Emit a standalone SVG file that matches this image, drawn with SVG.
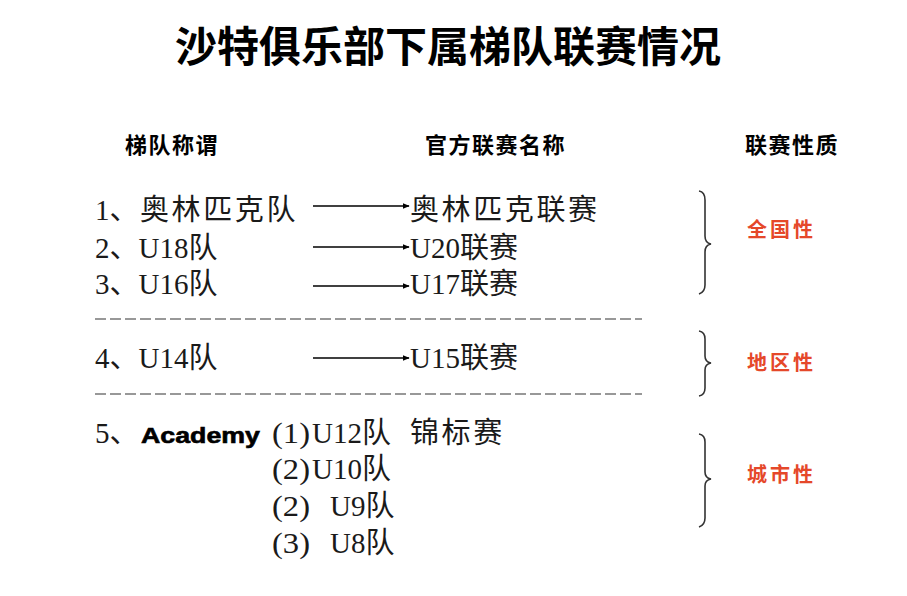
<svg xmlns="http://www.w3.org/2000/svg" width="907" height="596" viewBox="0 0 907 596">
<defs>
<style>
.title{font-family:"Noto Sans CJK SC","Liberation Sans",sans-serif;font-weight:700;font-size:42px;fill:#000}
.hdr{font-family:"Noto Sans CJK SC","Liberation Sans",sans-serif;font-weight:700;font-size:22px;fill:#000;letter-spacing:1.5px}
.item{font-family:"Liberation Serif","Noto Sans CJK SC",serif;font-size:29px;fill:#1a1a1a}
.wide{letter-spacing:2.6px}
.acad{font-family:"Liberation Sans",sans-serif;font-weight:900;font-size:22px;fill:#000;stroke:#000;stroke-width:0.6}
.kind{font-family:"Noto Sans CJK SC","Liberation Sans",sans-serif;font-weight:700;font-size:20px;fill:#e5482a;letter-spacing:3px}
.arrow{stroke:#000;stroke-width:1.3;fill:none}
.sep{stroke:#333;stroke-width:1.2;stroke-dasharray:11,4;fill:none}
.brace{stroke:#333;stroke-width:1.6;fill:none}
</style>
<marker id="ah" viewBox="0 0 10 10" refX="9" refY="5" markerWidth="7" markerHeight="7" markerUnits="userSpaceOnUse" orient="auto">
<path d="M0,1 L10,5 L0,9 Z" fill="#000"/>
</marker>
</defs>
<rect width="907" height="596" fill="#fff"/>
<g id="title"><text class="title" x="448" y="62" text-anchor="middle">沙特俱乐部下属梯队联赛情况</text></g>
<g id="headers">
<text class="hdr" x="125" y="153">梯队称谓</text>
<text class="hdr" x="425" y="153">官方联赛名称</text>
<text class="hdr" x="745" y="153">联赛性质</text>
</g>
<g id="row1"><text class="item" x="95" y="220">1、<tspan class="wide" x="140">奥林匹克队</tspan></text><text class="item wide" x="410" y="220">奥林匹克联赛</text></g>
<g id="row2"><text class="item" x="95" y="258">2、U18队</text><text class="item" x="410" y="258">U20联赛</text></g>
<g id="row3"><text class="item" x="95" y="294">3、U16队</text><text class="item" x="410" y="294">U17联赛</text></g>
<g id="row4"><text class="item" x="95" y="368">4、U14队</text><text class="item" x="410" y="368">U15联赛</text></g>
<g id="row5">
<text class="item" x="95" y="443">5、</text>
<text class="acad" x="141" y="443" textLength="119" lengthAdjust="spacingAndGlyphs">Academy</text>
<text class="item" x="272" y="443"><tspan textLength="38" lengthAdjust="spacingAndGlyphs">(1)</tspan><tspan x="312">U12队</tspan></text>
<text class="item wide" x="410" y="443">锦标赛</text>
<text class="item" x="272" y="479"><tspan textLength="38" lengthAdjust="spacingAndGlyphs">(2)</tspan><tspan x="312">U10队</tspan></text>
<text class="item" x="272" y="516"><tspan textLength="38" lengthAdjust="spacingAndGlyphs">(2)</tspan><tspan x="330">U9队</tspan></text>
<text class="item" x="272" y="553"><tspan textLength="38" lengthAdjust="spacingAndGlyphs">(3)</tspan><tspan x="330">U8队</tspan></text>
</g>
<g id="connectors">
<line class="arrow" x1="313" y1="206" x2="409" y2="206" marker-end="url(#ah)"/>
<line class="arrow" x1="313" y1="247" x2="409" y2="247" marker-end="url(#ah)"/>
<line class="arrow" x1="313" y1="286" x2="409" y2="286" marker-end="url(#ah)"/>
<line class="arrow" x1="313" y1="358" x2="409" y2="358" marker-end="url(#ah)"/>
</g>
<g id="separators">
<line class="sep" x1="95" y1="319" x2="642" y2="319"/>
<line class="sep" x1="95" y1="394" x2="642" y2="394"/>
</g>
<g id="group-national">
<path class="brace" d="M699,191 Q705,192 705,200 L705,236 Q705,243 711,244 Q705,245 705,252 L705,285 Q705,292 699,294"/>
<text class="kind" x="747" y="237">全国性</text>
</g>
<g id="group-regional">
<path class="brace" d="M699,331 Q705,332 705,339 L705,356 Q705,362 711,363 Q705,364 705,370 L705,388 Q705,395 699,396"/>
<text class="kind" x="747" y="370">地区性</text>
</g>
<g id="group-city">
<path class="brace" d="M699,434 Q705,435 705,442 L705,472 Q705,478 711,479 Q705,480 705,486 L705,518 Q705,525 699,527"/>
<text class="kind" x="747" y="482">城市性</text>
</g>
</svg>
